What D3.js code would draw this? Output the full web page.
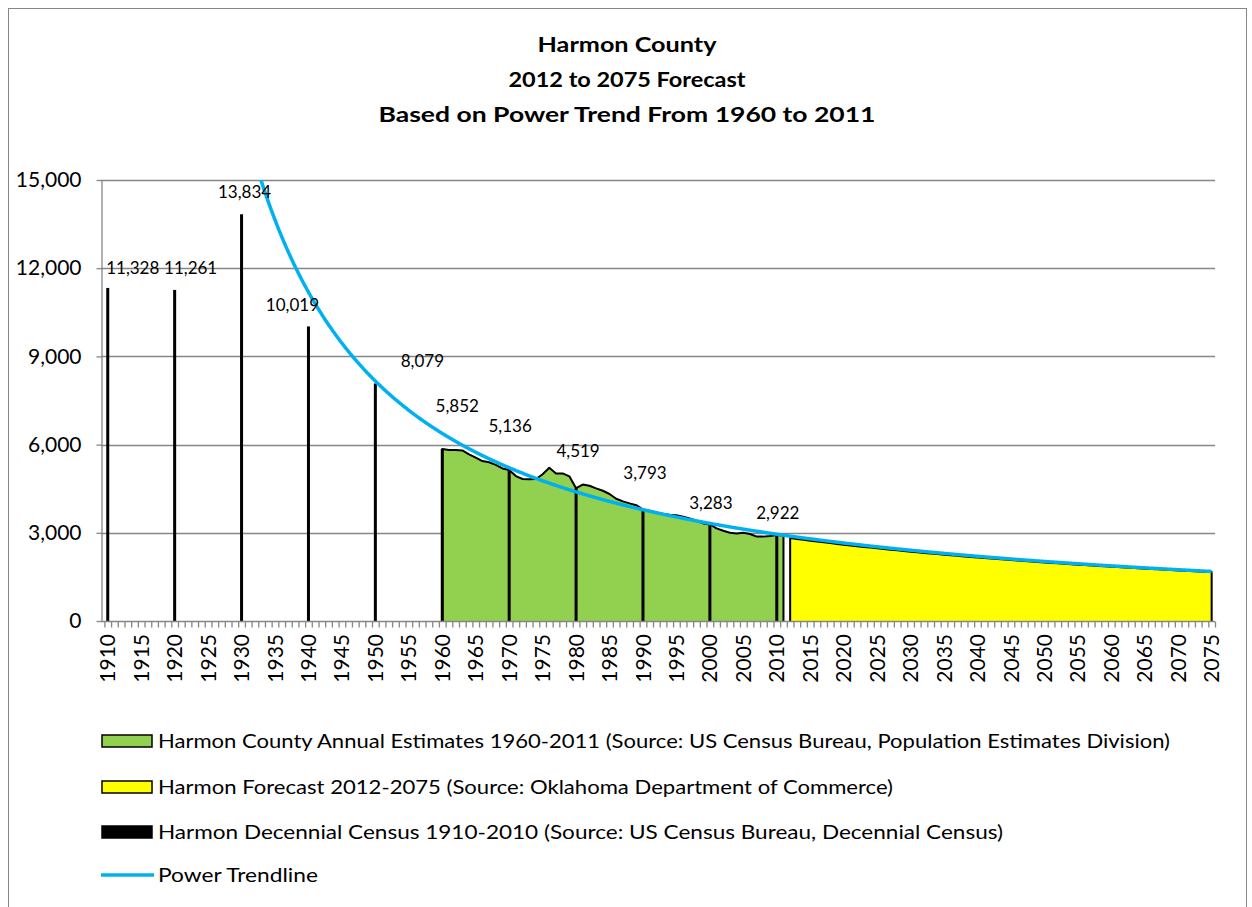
<!DOCTYPE html>
<html><head><meta charset="utf-8">
<script src="https://cdn.jsdelivr.net/npm/d3@7"></script>
<style>
body{margin:0;background:#fff;}
svg{display:block;font-family:Lato,"Open Sans",sans-serif;}
</style>
</head><body>
<svg id="c" width="1252" height="907"></svg>
<script>
// ---------------- data ----------------
const titleLines = ["Harmon County", "2012 to 2075 Forecast", "Based on Power Trend From 1960 to 2011"];
const firstYear = 1910, lastYear = 2075;
const categories = d3.range(firstYear, lastYear + 1);
const xTickYears = d3.range(1910, 2076, 5);
const yTicks = [0, 3000, 6000, 9000, 12000, 15000];

const censusYears  = [1910, 1920, 1930, 1940, 1950, 1960, 1970, 1980, 1990, 2000, 2010];
const censusValues = [11328, 11261, 13834, 10019, 8079, 5852, 5136, 4519, 3793, 3283, 2922];

const annualStart = 1960;
const annualValues = [
  5852, 5820, 5820, 5800, 5670, 5560, 5440, 5400, 5310, 5190,
  5136, 4930, 4830, 4820, 4830, 4990, 5210, 5020, 5020, 4920,
  4519, 4640, 4600, 4510, 4430, 4320, 4160, 4070, 4000, 3940,
  3793, 3750, 3690, 3640, 3610, 3600, 3550, 3490, 3410, 3320,
  3283, 3150, 3070, 3000, 2980, 3000, 2960, 2870, 2870, 2890,
  2922, 2910
];

const forecastStart = 2012;
const forecastValues = [
  2820, 2790, 2761, 2732, 2704, 2676, 2649, 2622, 2596, 2570,
  2545, 2520, 2496, 2472, 2449, 2426, 2403, 2381, 2359, 2338,
  2317, 2296, 2276, 2256, 2236, 2217, 2198, 2179, 2161, 2143,
  2125, 2107, 2090, 2073, 2056, 2040, 2024, 2008, 1992, 1976,
  1961, 1946, 1931, 1917, 1902, 1888, 1874, 1860, 1847, 1833,
  1820, 1807, 1794, 1781, 1769, 1756, 1744, 1732, 1720, 1708,
  1697, 1685, 1674, 1663
];

const legendLabels = [
  "Harmon County Annual Estimates 1960-2011 (Source: US Census Bureau, Population Estimates Division)",
  "Harmon Forecast 2012-2075 (Source: Oklahoma Department of Commerce)",
  "Harmon Decennial Census 1910-2010 (Source: US Census Bureau, Decennial Census)",
  "Power Trendline"
];

// label placement nudges (layout only), [dx, dy] from column top
const labelNudges = [[25,-20],[16,-22],[3,-22],[-16,-21],[47,-22],[15,-43],[1,-44],[2,-37],[2,-36],[1,-21],[1,-22]];

// ---------------- layout ----------------
const svg = d3.select("#c");
const C = {green:"#92D050", yellow:"#FFFF00", blue:"#00B0F0", grid:"#868686"};
const plot = {axisX:101, x0:104.4, right:1215, top:180, bottom:621};

svg.append("rect").attr("x",8.5).attr("y",8.5).attr("width",1238).attr("height",930)
  .attr("fill","#fff").attr("stroke",C.grid).attr("stroke-width",1);

const x = d3.scaleBand().domain(categories).range([plot.x0, plot.right]).padding(0);
const bw = x.bandwidth();
const cx = yr => x(yr) + bw/2;
const xl = d3.scaleLinear().domain([firstYear, lastYear]).range([cx(firstYear), cx(lastYear)]);
const y = d3.scaleLinear().domain([0, 15000]).range([plot.bottom, plot.top]);

// title
const titleBase = [52, 87, 122];
const titleLen = [179, 237, 497];
svg.append("g").selectAll("text").data(titleLines).join("text")
  .attr("x", 627).attr("y", (d,i)=>titleBase[i])
  .attr("text-anchor","middle").attr("font-weight","bold").attr("font-size",21)
  .attr("textLength",(d,i)=>titleLen[i]).attr("lengthAdjust","spacingAndGlyphs")
  .text(d=>d);

// gridlines
svg.append("g").selectAll("line").data(yTicks.filter(t=>t>0)).join("line")
  .attr("x1", plot.axisX).attr("x2", plot.right)
  .attr("y1", d=>Math.round(y(d))+0.5).attr("y2", d=>Math.round(y(d))+0.5)
  .attr("stroke", C.grid).attr("stroke-width",1.3);

// areas
const annual = annualValues.map((v,i)=>({year: annualStart+i, value:v}));
const forecast = forecastValues.map((v,i)=>({year: forecastStart+i, value:v}));
const area = d3.area().x(d=>cx(d.year)).y0(y(0)).y1(d=>y(d.value));
const outline = d3.line().x(d=>cx(d.year)).y(d=>y(d.value));
function drawArea(data, fill){
  svg.append("path").datum(data).attr("d", area).attr("fill", fill);
  const pts = [{year:data[0].year, value:0}, ...data, {year:data[data.length-1].year, value:0}];
  svg.append("path").datum(pts).attr("d", outline).attr("fill","none")
    .attr("stroke","#000").attr("stroke-width",2).attr("stroke-linejoin","round");
}
drawArea(annual, C.green);
drawArea(forecast, C.yellow);

// census columns
const census = censusYears.map((yr,i)=>({year:yr, value:censusValues[i]}));
svg.append("g").selectAll("rect").data(census).join("rect")
  .attr("x", d=>cx(d.year)-1.5).attr("width",3)
  .attr("y", d=>y(d.value)).attr("height", d=>y(0)-y(d.value))
  .attr("fill","#000");

// power trendline (least squares fit of ln(value) on ln(index), index = year - 1909)
const lx = annual.map(d=>Math.log(d.year - firstYear + 1));
const ly = annual.map(d=>Math.log(d.value));
const mx = d3.mean(lx), my = d3.mean(ly);
const b = d3.sum(lx.map((v,i)=>(v-mx)*(ly[i]-my))) / d3.sum(lx.map(v=>(v-mx)*(v-mx)));
const a = Math.exp(my - b*mx);
const trendPts = d3.range(1, lastYear - firstYear + 1.0001, 0.1).map(t=>({year: firstYear - 1 + t, value: a*Math.pow(t,b)}));
svg.append("clipPath").attr("id","pc").append("rect")
  .attr("x", plot.axisX).attr("y", plot.top).attr("width", plot.right-plot.axisX+2).attr("height", plot.bottom-plot.top);
svg.append("path").datum(trendPts.filter(d=>d.value<40000))
  .attr("clip-path","url(#pc)")
  .attr("d", d3.line().x(d=>xl(d.year)).y(d=>y(d.value)))
  .attr("fill","none").attr("stroke",C.blue).attr("stroke-width",3.5);

// y axis
const yAxis = svg.append("g").attr("transform",`translate(${plot.axisX+0.5},0)`)
  .call(d3.axisLeft(y).tickValues(yTicks).tickFormat(d3.format(",")).tickSize(5).tickSizeOuter(0).tickPadding(15));
yAxis.select(".domain").attr("stroke",C.grid).attr("stroke-width",1.3);
yAxis.selectAll(".tick line").attr("stroke",C.grid).attr("stroke-width",1.3);
yAxis.selectAll("text").attr("font-size",21).attr("font-family","Lato, 'Open Sans', sans-serif").attr("fill","#000");

// x axis: line + minor ticks at category boundaries
const xb = d3.scaleLinear().domain([0, categories.length]).range([plot.x0, plot.right]);
const xMinor = svg.append("g").attr("transform",`translate(0,${plot.bottom+0.5})`)
  .call(d3.axisBottom(xb).tickValues(d3.range(0, categories.length+1)).tickFormat("").tickSize(6).tickSizeOuter(0));
xMinor.select(".domain").remove();
xMinor.selectAll(".tick line").attr("stroke",C.grid).attr("stroke-width",1.3);
svg.append("line").attr("x1",plot.axisX).attr("x2",plot.right).attr("y1",plot.bottom+0.5).attr("y2",plot.bottom+0.5)
  .attr("stroke",C.grid).attr("stroke-width",1.5);
const xAxis = svg.append("g").attr("transform",`translate(0,${plot.bottom})`)
  .call(d3.axisBottom(x).tickValues(xTickYears).tickSize(0));
xAxis.select(".domain").remove();
xAxis.selectAll("text")
  .attr("transform","rotate(-90)").attr("x",-13).attr("y",0).attr("dy","0.36em")
  .attr("text-anchor","end").attr("font-size",21).attr("font-family","Lato, 'Open Sans', sans-serif").attr("fill","#000");

// data labels
svg.append("g").selectAll("text").data(census).join("text")
  .attr("x",(d,i)=>cx(d.year)+labelNudges[i][0])
  .attr("y",(d,i)=>y(d.value)+labelNudges[i][1])
  .attr("dy","0.35em").attr("text-anchor","middle").attr("font-size",17).attr("fill","#000")
  .text(d=>d3.format(",")(d.value));

// legend
const legBase = [748, 794, 839, 882];
const legLen = [1012, 735, 845, 160];
const lg = svg.append("g");
legendLabels.forEach((t,i)=>{
  const yy = legBase[i];
  if (i < 3) {
    lg.append("rect").attr("x",102).attr("y",yy-13).attr("width",50).attr("height",12)
      .attr("fill",[C.green,C.yellow,"#000"][i]).attr("stroke","#000").attr("stroke-width",1.5);
  } else {
    lg.append("line").attr("x1",101).attr("x2",154).attr("y1",yy-7).attr("y2",yy-7)
      .attr("stroke",C.blue).attr("stroke-width",3.5);
  }
  lg.append("text").attr("x",158).attr("y",yy).attr("font-size",20)
    .attr("textLength",legLen[i]).attr("lengthAdjust","spacingAndGlyphs").text(t);
});
</script>
</body></html>
